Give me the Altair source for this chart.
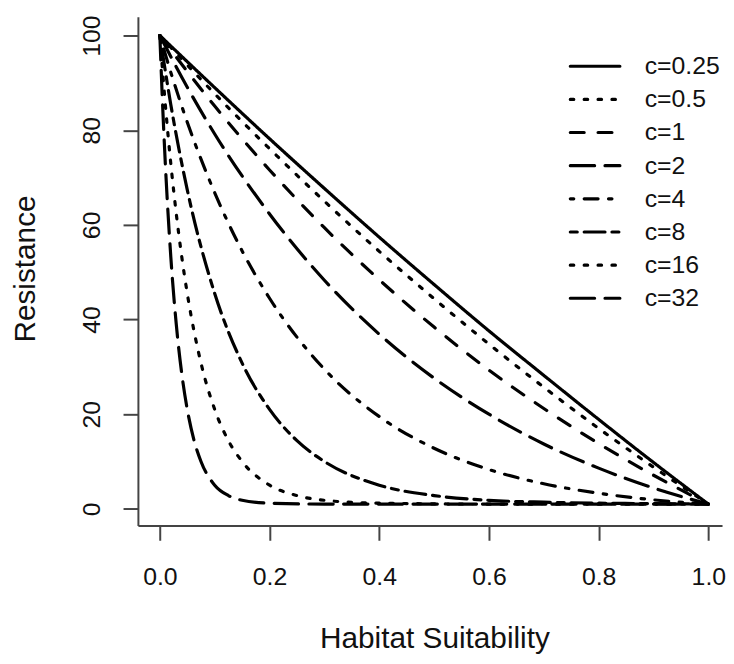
import altair as alt
import pandas as pd

# ---- data ----
labels = ["c=0.25", "c=0.5", "c=1", "c=2", "c=4", "c=8", "c=16", "c=32"]

h_c025 = [0, 0.1, 0.2, 0.3, 0.4, 0.5, 0.6, 0.7, 0.8, 0.9, 1.0]
r_c025 = [100, 89.0, 78.2, 67.7, 57.4, 47.4, 37.6, 28.2, 18.9, 9.8, 1.0]

h_c05 = [0, 0.1, 0.2, 0.3, 0.4, 0.5, 0.6, 0.7, 0.8, 0.9, 1.0]
r_c05 = [100, 87.7, 76.1, 65.0, 54.4, 44.4, 34.8, 25.7, 17.0, 8.8, 1.0]

h_c1 = [0, 0.1, 0.2, 0.3, 0.4, 0.5, 0.6, 0.7, 0.8, 0.9, 1.0]
r_c1 = [100, 85.1, 71.6, 59.4, 48.4, 38.4, 29.3, 21.2, 13.8, 7.1, 1.0]

h_c2 = [0, 0.05, 0.1, 0.2, 0.3, 0.4, 0.5, 0.6, 0.7, 0.8, 0.9, 1.0]
r_c2 = [100, 89.1, 79.2, 62.3, 48.3, 36.9, 27.6, 20.0, 13.7, 8.6, 4.4, 1.0]

h_c4 = [0, 0.02, 0.05, 0.1, 0.15, 0.2, 0.3, 0.4, 0.5, 0.6, 0.7, 0.8, 0.9, 1.0]
r_c4 = [100, 92.2, 81.7, 66.8, 54.5, 44.5, 29.5, 19.5, 12.8, 8.3, 5.3, 3.3, 1.9, 1.0]

h_c8 = [0, 0.02, 0.05, 0.1, 0.15, 0.2, 0.25, 0.3, 0.4, 0.5, 0.6, 0.7, 0.8, 0.9, 1.0]
r_c8 = [100, 85.4, 67.4, 45.5, 30.8, 21.0, 14.4, 10.0, 5.0, 2.8, 1.8, 1.4, 1.2, 1.1, 1.0]

h_c16 = [0, 0.01, 0.02, 0.03, 0.04, 0.05, 0.075, 0.1, 0.125, 0.15, 0.2, 0.25, 0.3, 0.4, 0.6, 1.0]
r_c16 = [100, 85.4, 72.9, 62.3, 53.2, 45.5, 30.8, 21.0, 14.4, 10.0, 5.0, 2.8, 1.8, 1.2, 1.0, 1.0]

h_c32 = [0, 0.005, 0.01, 0.02, 0.03, 0.04, 0.05, 0.0625, 0.075, 0.1, 0.125, 0.15, 0.2, 0.3, 1.0]
r_c32 = [100, 85.4, 72.9, 53.2, 38.9, 28.5, 21.0, 14.4, 10.0, 5.0, 2.8, 1.8, 1.2, 1.0, 1.0]

x_ticks = [0.0, 0.2, 0.4, 0.6, 0.8, 1.0]
y_ticks = [0, 20, 40, 60, 80, 100]

series_h = [h_c025, h_c05, h_c1, h_c2, h_c4, h_c8, h_c16, h_c32]
series_r = [r_c025, r_c05, r_c1, r_c2, r_c4, r_c8, r_c16, r_c32]

rows = []
for lab, hs, rs in zip(labels, series_h, series_r):
    for h, r in zip(hs, rs):
        rows.append({"label": lab, "h": h, "r": r})
df = pd.DataFrame(rows)
leg_df = pd.DataFrame({"label": labels})

# ---- styles (R line types) ----
u = 3.5
solid = [1, 0]
dotted = [1 * u, 3 * u]
dashed = [4 * u, 4 * u]
longdash = [7 * u, 3 * u]
dotdash = [1 * u, 3 * u, 4 * u, 3 * u]
twodash = [2 * u, 2 * u, 6 * u, 2 * u]
dash_range = [solid, dotted, dashed, longdash, dotdash, twodash, dotted, longdash]

FONT = "Liberation Sans"
LW = 3.2

dash_scale = alt.Scale(domain=labels, range=dash_range)

curves = alt.Chart(df).mark_line(
    color="black", strokeWidth=LW, strokeCap="round", interpolate="monotone"
).encode(
    x=alt.X(
        "h:Q",
        scale=alt.Scale(domain=[-0.04, 1.025], nice=False, zero=False),
        axis=alt.Axis(
            values=x_ticks, format=".1f", title="Habitat Suitability",
            labelBaseline="alphabetic", labelPadding=45,
            titleX=299, titleY=123, titleBaseline="alphabetic", titleAlign="center",
        ),
    ),
    y=alt.Y(
        "r:Q",
        scale=alt.Scale(domain=[-3.5, 104], nice=False, zero=False),
        axis=alt.Axis(
            values=y_ticks, format="d", title="Resistance",
            labelAngle=-90, labelAlign="center", labelBaseline="alphabetic",
            labelPadding=24,
            titleAngle=-90, titleX=-104, titleY=254,
            titleBaseline="alphabetic", titleAlign="center",
        ),
    ),
    strokeDash=alt.StrokeDash("label:N", scale=dash_scale, legend=None),
)

leg_y = alt.Y(
    "label:N",
    scale=alt.Scale(type="point", domain=labels, range=[50, 284], padding=0),
    axis=None,
)

leg_lines = alt.Chart(leg_df).mark_rule(
    color="black", strokeWidth=LW, strokeCap="round"
).encode(
    x=alt.value(436),
    x2=alt.value(486),
    y=leg_y,
    strokeDash=alt.StrokeDash("label:N", scale=dash_scale, legend=None),
)

leg_text = alt.Chart(leg_df).mark_text(
    align="left", baseline="middle", fontSize=25, font=FONT, color="#111"
).encode(
    x=alt.value(511),
    y=leg_y,
    text="label:N",
)

legend = alt.layer(leg_lines, leg_text)

chart = alt.layer(curves, legend).resolve_scale(y="independent").properties(
    width=589,
    height=513,
    background="white",
    autosize=alt.AutoSizeParams(type="none"),
    padding={"left": 131, "top": 6, "right": 4, "bottom": 130},
).configure_view(
    stroke=None
).configure_axis(
    grid=False,
    domainColor="#444",
    domainWidth=2,
    tickColor="#444",
    tickWidth=2,
    tickSize=15,
    labelFont=FONT,
    labelFontSize=25,
    labelColor="#111",
    titleFont=FONT,
    titleFontSize=30,
    titleFontWeight="normal",
    titleColor="#111",
    labelOverlap=False,
    labelFlush=False,
)

chart.save("out.html", embed_options={"renderer": "svg", "actions": False})
